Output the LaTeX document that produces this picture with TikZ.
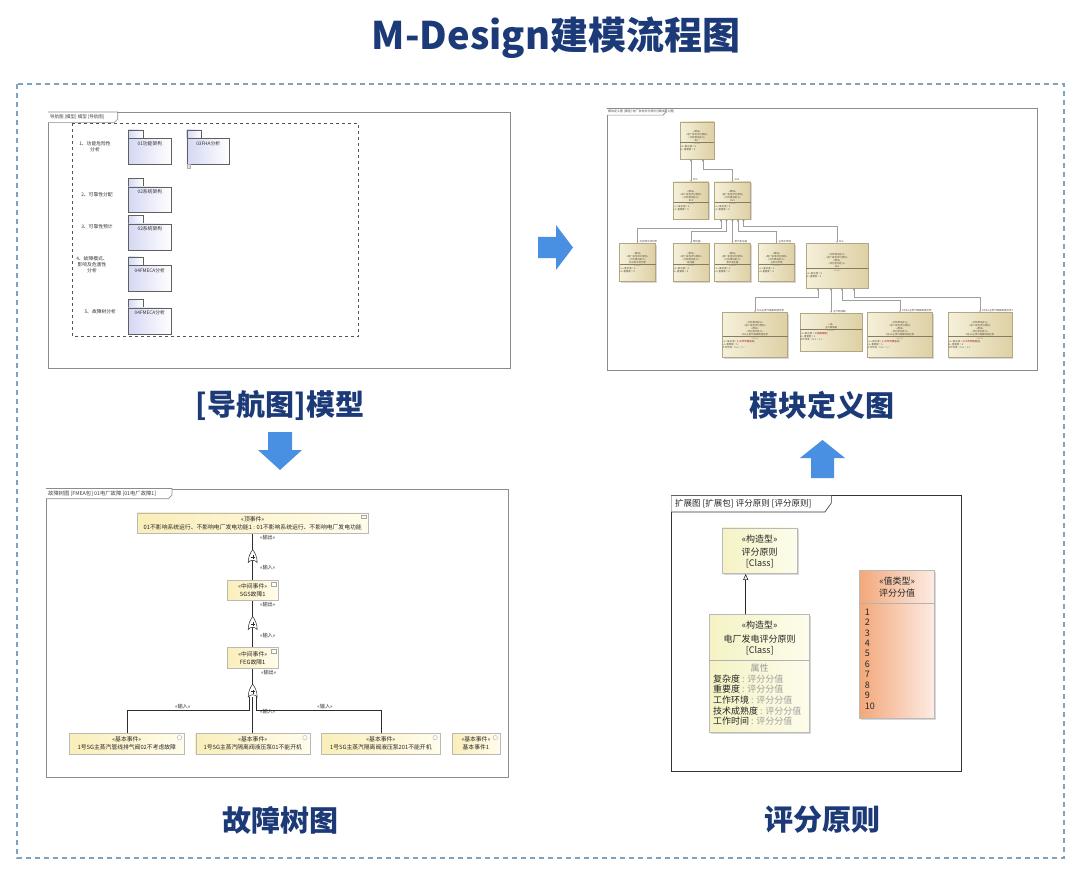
\documentclass[tikz,border=0pt]{standalone}
\usepackage{fontspec}
\setmainfont{Noto Sans CJK SC}
\usetikzlibrary{shadows,calc,arrows.meta}
\definecolor{navy}{RGB}{28,58,120}
\definecolor{dashblue}{RGB}{125,163,192}
\definecolor{arrowblue}{RGB}{74,144,226}
\definecolor{pkgfill}{RGB}{212,216,243}
\definecolor{bddl}{RGB}{245,240,218}
\definecolor{bddr}{RGB}{222,208,164}
\definecolor{bddtext}{RGB}{88,76,52}
\definecolor{evl}{RGB}{250,238,185}
\definecolor{evr}{RGB}{255,252,236}
\definecolor{clsl}{RGB}{245,243,196}
\definecolor{clsr}{RGB}{253,252,236}
\definecolor{orl}{RGB}{242,168,122}
\definecolor{orr}{RGB}{253,236,228}
\definecolor{framec}{RGB}{140,140,140}
\newcommand\bddc[3]{\parbox{#1pt}{\centering #2\par\vspace{0.7pt}{\color{bddr!60!black}\hrule height 0.25pt}\vspace{0.7pt}\centering{\color{bddtext!60}values}\par\raggedright\hspace*{0.8pt}#3}}
\tikzset{
  panel/.style={draw=framec, line width=0.8pt, fill=white},
  tabbox/.style={draw=framec, line width=0.6pt, fill=white},
  pkgbody/.style={draw=gray!75!black, line width=0.4pt, left color=pkgfill, right color=white},
  pkglab/.style={font=\fontsize{4.8}{5.5}\selectfont, text=black!80, inner sep=0pt},
  navlab/.style={font=\fontsize{4.8}{6}\selectfont, align=center, text=black!80, inner sep=0pt},
  blk/.style={draw=bddr!80!black, line width=0.3pt, left color=bddl, right color=bddr, inner xsep=0pt, inner ysep=1pt, font=\fontsize{2.4}{3}\selectfont, text=bddtext, drop shadow={shadow xshift=1pt, shadow yshift=-1pt, opacity=0.3}},
  bline/.style={draw=gray!75, line width=0.4pt, {Diamond[length=2.6pt,width=1.8pt,fill=gray!70!black]}-{Stealth[length=2pt,width=1.6pt]}},
  clab/.style={font=\fontsize{2.5}{3}\selectfont, text=black!70, anchor=south west, inner sep=0.4pt},
  ev/.style={draw=gray!55, line width=0.4pt, left color=evl, right color=evr, align=center, font=\fontsize{5.8}{8}\selectfont, text=black!85, inner sep=0.5pt, drop shadow={shadow xshift=1pt, shadow yshift=-1pt, opacity=0.25}},
  ftline/.style={draw=gray!35!black, line width=0.55pt},
  ftlab/.style={font=\fontsize{5.2}{6}\selectfont, text=black!80, inner sep=0.4pt},
  clsbox/.style={draw=gray!55, line width=0.5pt, left color=clsl, right color=clsr, drop shadow={shadow xshift=1.5pt, shadow yshift=-1.5pt, opacity=0.3}},
  valbox/.style={draw=gray!55, line width=0.5pt, left color=orl, right color=orr, drop shadow={shadow xshift=1.5pt, shadow yshift=-1.5pt, opacity=0.3}},
  ctext/.style={font=\fontsize{9}{10}\selectfont, text=black!85, inner sep=0pt},
  bigarrow/.style={fill=arrowblue, draw=none},
  paneltitle/.style={font=\fontsize{29}{32}\selectfont\bfseries, text=navy},
  orgate/.pic={
    \draw[gray!35!black, line width=0.5pt, fill=white] (-4.5,6) .. controls (-4.5,0) and (-2,-4) .. (0,-7) .. controls (2,-4) and (4.5,0) .. (4.5,6) .. controls (2,3) and (-2,3) .. (-4.5,6) -- cycle;
    \draw[gray!35!black, line width=0.4pt] (-2,0.5) -- (2,0.5) (0,-1.5) -- (0,2.5);
  }
}
\begin{document}
\begin{tikzpicture}[x=1pt,y=-1pt]
\useasboundingbox (0,0) rectangle (1080,872);
\fill[white] (0,0) rectangle (1080,872);

% title
\node[font=\fontsize{38}{42}\selectfont\bfseries, text=navy] (title) at (556,38) {M-Design建模流程图};
% outer dashed frame
\draw[dashblue, line width=1.5pt, dash pattern=on 5pt off 4pt] (17,84) rectangle (1064,858);

% ================= top-left: navigation diagram =================
\node[panel, minimum width=462, minimum height=256, anchor=north west] (navp) at (48,112) {};
\draw[tabbox] (48,112) -- (117.7,112) -- (117.7,119) -- (114,122.7) -- (48,122.7);
\node[font=\fontsize{4.5}{5}\selectfont, text=black!75, anchor=west, inner sep=0pt] (navh) at (50,117.4) {导航图 [模型] 模型 [导航图]};
\draw[dashed, gray!65!black, line width=0.5pt] (72.7,123.3) rectangle (358.3,336.7);
% packages
\foreach \px/\ty/\nm/\lb in {128.3/130/p1/01功能架构, 186.7/130/p2/03FHA分析, 128.3/178.3/p3/02系统架构, 128.3/215.3/p4/02系统架构, 128.3/256.7/p5/04FMECA分析, 128.3/299.3/p6/04FMECA分析}{
  \draw[pkgbody] (\px,\ty) rectangle ++(14.4,8.4);
  \node[pkgbody, minimum width=42.7, minimum height=25.8, anchor=north west, inner sep=0pt] (\nm) at (\px,\ty+8.4) {};
  \node[pkglab, anchor=north] (\nm t) at ([yshift=-3pt]\nm.north) {\lb};
}
\draw[gray!60, fill=gray!25, line width=0.3pt] (187,164.3) rectangle (190.5,167.8);
\node[navlab] (n1) at (95,146.7) {1、功能危险性\\分析};
\node[navlab] (n2) at (97,195) {2、可靠性分配};
\node[navlab] (n3) at (97,226.7) {3、可靠性预计};
\node[navlab] (n4) at (92,265) {4、故障模式、\\影响及危害性\\分析};
\node[navlab] (n5) at (100.3,311.7) {5、故障树分析};

% ================= top-right: block definition diagram =================
\node[panel, minimum width=430, minimum height=261, anchor=north west] (bddp) at (606.5,108.5) {};
\draw[tabbox] (606.5,108.5) -- (666,108.5) -- (666,112) -- (663,115.2) -- (606.5,115.2);
\node[font=\fontsize{3}{3.5}\selectfont, text=black!70, anchor=west, inner sep=0pt] (bddh) at (608,111.9) {模块定义图 [模型] 电厂发电评分原则 [模块定义图]};

\node[blk, minimum width=34, minimum height=37] (T) at (697,140.5) {\bddc{34}{«模块»\\«电厂发电评分原则»\\«元件模块定义»\\电厂}{«1» 复杂度 = 5\\«1» 重要度 = 5}};
\node[blk, minimum width=35, minimum height=37] (B2) at (691,200.5) {\bddc{35}{«模块»\\«电厂发电评分原则»\\«元件模块定义»\\RCS}{«1» 复杂度 = 5\\«1» 重要度 = 5}};
\node[blk, minimum width=36, minimum height=37] (B3) at (732.5,200.5) {\bddc{36}{«模块»\\«电厂发电评分原则»\\«元件模块定义»\\SGS}{«1» 复杂度 = 5\\«1» 重要度 = 5}};

\node[blk, minimum width=36, minimum height=38] (A) at (637.5,262.5) {\bddc{36}{«模块»\\«电厂发电评分原则»\\«元件模块定义»\\反应堆冷却剂泵}{«1» 复杂度 = 5\\«1» 重要度 = 5}};
\node[blk, minimum width=36, minimum height=38] (B) at (691,262.5) {\bddc{36}{«模块»\\«电厂发电评分原则»\\«元件模块定义»\\稳压器}{«1» 复杂度 = 4\\«1» 重要度 = 5}};
\node[blk, minimum width=36, minimum height=38] (C) at (732.5,262.5) {\bddc{36}{«模块»\\«电厂发电评分原则»\\«元件模块定义»\\蒸汽发生器}{«1» 复杂度 = 5\\«1» 重要度 = 5}};
\node[blk, minimum width=36, minimum height=38] (D) at (776.5,262.5) {\bddc{36}{«模块»\\«电厂发电评分原则»\\«元件模块定义»\\主给水泵组}{«1» 复杂度 = 4\\«1» 重要度 = 4}};
\node[blk, minimum width=62, minimum height=45] (E) at (837,265.5) {\bddc{62}{«元件模块定义»\\«电厂发电评分原则»\\«模块»\\«评分原则定义»\\FEG}{«1» 复杂度 = 5\\«1» 重要度 = 5}};

\node[blk, minimum width=65, minimum height=45] (F) at (755,335) {\bddc{65}{«元件模块定义»\\«电厂发电评分原则»\\«模块»\\«评分原则定义»\\FEG主蒸汽隔离阀液压泵}{«1» 复杂度 = {\color{red!60!black}4 (工作环境恶劣)}\\«1» 重要度 = 5\\工作环境 : {\color{gray}Real = 5.7}}};
\node[blk, minimum width=62, minimum height=38] (G) at (831,332) {\bddc{62}{«块»\\主汽阀油箱}{«1» 复杂度 = {\color{red!60!black}3 (结构简单)}\\«1» 重要度 = 3\\工作环境 : {\color{gray}Real = 4.0}}};
\node[blk, minimum width=65, minimum height=45] (H) at (900,335) {\bddc{65}{«元件模块定义»\\«电厂发电评分原则»\\«模块»\\«评分原则定义»\\1号SG主蒸汽隔离阀液压泵}{«1» 复杂度 = {\color{red!60!black}4 (工作环境恶劣)}\\«1» 重要度 = 5\\工作环境 : {\color{gray}Real = 5.7}}};
\node[blk, minimum width=64, minimum height=45] (I) at (980,335) {\bddc{64}{«元件模块定义»\\«电厂发电评分原则»\\«模块»\\«评分原则定义»\\2号SG主蒸汽隔离阀液压泵}{«1» 复杂度 = {\color{red!60!black}4 (工作环境恶劣)}\\«1» 重要度 = 5\\工作环境 : {\color{gray}Real = 5.8}}};

% BDD connectors
\draw[bline] ([xshift=-6pt]T.south) -- ([xshift=-6pt]T.south |- B2.north);
\draw[bline] ([xshift=6pt]T.south) -- ++(0,10) -| (B3.north);
\draw[bline] ([xshift=-11.5pt]B3.south) -- ++(0,9) -| (A.north);
\draw[bline] ([xshift=-6pt]B3.south) -- ++(0,12) -| (B.north);
\draw[bline] (B3.south) -- (C.north);
\draw[bline] ([xshift=5.5pt]B3.south) -- ++(0,12) -| (D.north);
\draw[bline] ([xshift=11pt]B3.south) -- ++(0,7) -| (E.north);
\draw[bline] ([xshift=-19pt]E.south) -- ++(0,9.5) -| (F.north);
\draw[bline] ([xshift=-6pt]E.south) -- (G.north);
\draw[bline] ([xshift=5pt]E.south) -- ++(0,12) -| (H.north);
\draw[bline] ([xshift=17pt]E.south) -- ++(0,9) -| (I.north);
\node[clab] (lb2) at (692.5,181.5) {RCS};
\node[clab] (lb3) at (734,181.5) {SGS};
\node[clab] (lA) at (639,243) {反应堆冷却剂泵};
\node[clab] (lB) at (692.5,243) {稳压器};
\node[clab] (lC) at (734,243) {蒸汽发生器};
\node[clab] (lD) at (778,243) {主给水泵组};
\node[clab] (lE) at (838.5,243) {FEG};
\node[clab] (lF) at (756.5,312.5) {FEG主蒸汽隔离阀液压泵};
\node[clab] (lG) at (832.5,313) {主汽阀油箱};
\node[clab] (lH) at (901.5,312.5) {1号SG主蒸汽隔离阀液压泵};
\node[clab] (lI) at (981.5,312.5) {2号SG主蒸汽隔离阀液压泵1};

% ================= bottom-left: fault tree =================
\node[panel, minimum width=461.7, minimum height=288.2, anchor=north west] (ftp) at (46,488.5) {};
\draw[tabbox] (46,488.5) -- (172,488.5) -- (172,495) -- (168.5,498.7) -- (46,498.7);
\node[font=\fontsize{5.3}{6}\selectfont, text=black!75, anchor=west, inner sep=0pt] (fth) at (48,493.6) {故障树图 [FMEA包] 01电厂故障 [01电厂故障1]};

\node[ev, minimum width=230.6, minimum height=20.6] (top) at (252.7,523) {«顶事件»\\01不影响系统运行、不影响电厂发电功能1 : 01不影响系统运行、不影响电厂发电功能};
\node[ev, minimum width=50.6, minimum height=20.3] (mid1) at (252.7,590.2) {«中间事件»\\SGS故障1};
\node[ev, minimum width=50.6, minimum height=21] (mid2) at (252.7,657.8) {«中间事件»\\FEG故障1};
\node[ev, minimum width=115, minimum height=20.7] (be1) at (126.8,743.7) {«基本事件»\\1号SG主蒸汽管线排气阀02不考虑故障};
\node[ev, minimum width=114, minimum height=20.7] (be2) at (252.7,743.7) {«基本事件»\\1号SG主蒸汽隔离阀液压泵01不能开机};
\node[ev, minimum width=118.3, minimum height=20.7] (be3) at (380.8,743.7) {«基本事件»\\1号SG主蒸汽隔离阀液压泵201不能开机};
\node[ev, minimum width=48.3, minimum height=20.7] (be4) at (475.9,743.7) {«基本事件»\\基本事件1};
% icons
\foreach \n in {top,mid1,mid2}{
  \draw[gray!70, line width=0.35pt, fill=white] ([xshift=-7pt,yshift=-2.5pt]\n.north east) rectangle ++(4.5,3.5);
}
\foreach \n in {be1,be2,be3,be4}{
  \draw[gray!70, line width=0.35pt, fill=white] ([xshift=-5pt,yshift=-4.5pt]\n.north east) circle[radius=2.2pt];
}
\coordinate (g1) at (252.7,556.5);
\coordinate (g2) at (252.7,623.5);
\coordinate (g3) at (252.7,691);
\coordinate (g3b) at (252.7,697);
\draw[ftline] (mid1.north) -- (top.south);
\draw[ftline] (mid2.north) -- (mid1.south);
\draw[ftline] (g3) -- (mid2.south);
\draw[ftline] ([xshift=-3.4pt]g3b) -- ++(0,13) -| (be1.north);
\draw[ftline] (g3b) -- (be2.north);
\draw[ftline] ([xshift=4pt]g3b) -- ++(0,13) -| (be3.north);
\pic at (g1) {orgate};
\pic at (g2) {orgate};
\pic at (g3) {orgate};
\node[ftlab] (o1) at (267.7,537.7) {«输出»};
\node[ftlab] (i1) at (267.7,567.7) {«输入»};
\node[ftlab] (o2) at (267.7,604.3) {«输出»};
\node[ftlab] (i2) at (267.7,635.7) {«输入»};
\node[ftlab] (o3) at (268.7,672.3) {«输出»};
\node[ftlab] (i3) at (182.7,706.2) {«输入»};
\node[ftlab] (i4) at (267.7,712) {«输入»};
\node[ftlab] (i5) at (325,706.2) {«输入»};

% ================= bottom-right: profile diagram =================
\node[panel, draw=gray!40!black, minimum width=289.4, minimum height=276, anchor=north west] (prp) at (671.3,495.3) {};
\draw[tabbox, draw=gray!40!black] (671.3,495.3) -- (831.3,495.3) -- (831.3,503) -- (825,512) -- (671.3,512);
\node[font=\fontsize{8.5}{9}\selectfont, text=black!85, anchor=west, inner sep=0pt] (prh) at (675,503.6) {扩展图 [扩展包] 评分原则 [评分原则]};

\node[clsbox, minimum width=75.3, minimum height=45.7] (c1) at (759.7,550.8) {};
\node[ctext] (c1a) at (759.7,538.7) {«构造型»};
\node[ctext] (c1b) at (759.7,552) {评分原则};
\node[ctext] (c1c) at (759.7,563.7) {[Class]};

\node[clsbox, minimum width=100, minimum height=118] (c2) at (759.7,673.7) {};
\node[ctext] (c2a) at (759.7,625.3) {«构造型»};
\node[ctext] (c2b) at (759.7,638.7) {电厂发电评分原则};
\node[ctext] (c2c) at (759.7,650.3) {[Class]};
\draw[gray!60, line width=0.4pt] (c2.west |- 0,659.7) -- (c2.east |- 0,659.7);
\node[ctext, text=gray!80] (c2d) at (759.7,668) {属性};
\node[ctext, anchor=west] (at1) at (713,678.7) {复杂度 {\color{gray!75}: 评分分值}};
\node[ctext, anchor=west] (at2) at (713,689.3) {重要度 {\color{gray!75}: 评分分值}};
\node[ctext, anchor=west] (at3) at (713,700.3) {工作环境 {\color{gray!75}: 评分分值}};
\node[ctext, anchor=west] (at4) at (713,711) {技术成熟度 {\color{gray!75}: 评分分值}};
\node[ctext, anchor=west] (at5) at (713,721.3) {工作时间 {\color{gray!75}: 评分分值}};
\draw[gray!30!black, line width=0.6pt, -{Triangle[open,length=6pt,width=5pt]}] ([xshift=-14pt]c2.north) -- ([xshift=-14pt]c1.south);

\node[valbox, minimum width=75, minimum height=147.7] (c3) at (897.2,644.2) {};
\node[ctext] (c3a) at (897.2,581.3) {«值类型»};
\node[ctext] (c3b) at (897.2,592.7) {评分分值};
\draw[gray!60, line width=0.4pt] (c3.west |- 0,603) -- (c3.east |- 0,603);
\foreach \k in {1,...,10}{
  \node[ctext, anchor=west] (v\k) at (864.7,{612+(\k-1)*10.44}) {\k};
}

% ================= big blue arrows =================
\fill[bigarrow] (538,237) -- (556,237) -- (556,225) -- (573,247.5) -- (556,270) -- (556,258) -- (538,258) -- cycle;
\fill[bigarrow] (268,432) -- (292,432) -- (292,450) -- (302,450) -- (280,470) -- (258,450) -- (268,450) -- cycle;
\fill[bigarrow] (822.5,440) -- (845,458) -- (834,458) -- (834,478) -- (811,478) -- (811,458) -- (800,458) -- cycle;

% captions
\node[paneltitle] (cap1) at (280,405) {[导航图]模型};
\node[paneltitle] (cap2) at (822,405) {模块定义图};
\node[paneltitle] (cap3) at (280,820) {故障树图};
\node[paneltitle] (cap4) at (822,820) {评分原则};
\end{tikzpicture}
\end{document}
